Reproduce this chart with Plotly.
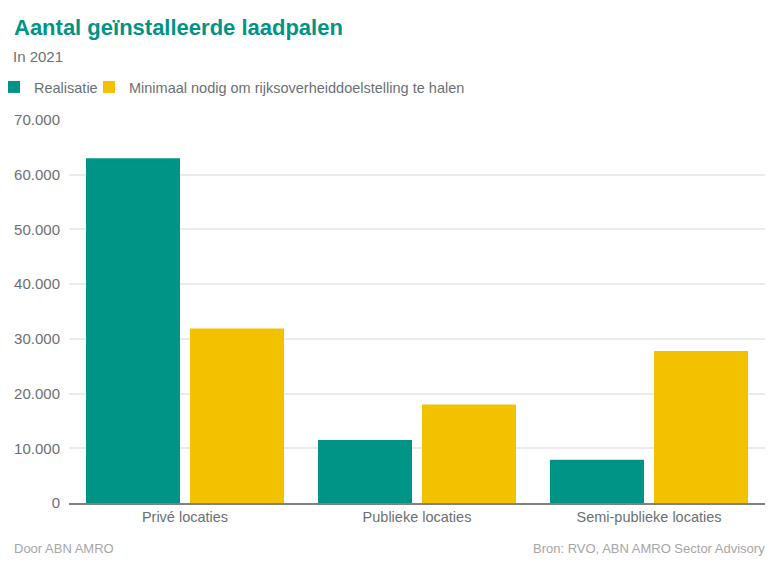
import plotly.graph_objects as go

categories = ["Privé locaties", "Publieke locaties", "Semi-publieke locaties"]
realisatie = [63000, 11500, 7900]
minimaal = [31900, 18000, 27800]
y_ticks = [0, 10000, 20000, 30000, 40000, 50000, 60000, 70000]

TEAL = "#009486"
YELLOW = "#F2C100"
GRAY = "#6b7075"
FONT = "Arial, Liberation Sans, sans-serif"

L, R, T, B = 69, 18, 120, 64
PW, PH = 783 - L - R, 567 - T - B

fig = go.Figure()
fig.add_trace(go.Bar(name="Realisatie", x=categories, y=realisatie, marker_color=TEAL,
                     marker_line_width=0, legend="legend"))
fig.add_trace(go.Bar(name="Minimaal nodig om rijksoverheiddoelstelling te halen", x=categories,
                     y=minimaal, marker_color=YELLOW, marker_line_width=0, legend="legend2"))

legend_common = dict(orientation="h", y=1 + (T - 71) / PH, xanchor="left", yanchor="top",
                     font=dict(size=14.5, color=GRAY), itemwidth=30,
                     itemclick=False, itemdoubleclick=False, bgcolor="rgba(0,0,0,0)")

fig.update_layout(
    width=783, height=567,
    margin=dict(l=L, r=R, t=T, b=B, autoexpand=False),
    paper_bgcolor="white", plot_bgcolor="white",
    font=dict(family=FONT, color=GRAY, size=14),
    separators=",.",
    barmode="group", bargap=0.1034, bargroupgap=0.0962,
    showlegend=True,
    legend=dict(x=(-6 - L) / PW, **legend_common),
    legend2=dict(x=(89 - L) / PW, **legend_common),
    title=dict(text="<b>Aantal geïnstalleerde laadpalen</b>", x=14 / 783, xanchor="left",
               y=1 - 27 / 567, yanchor="middle", font=dict(size=22, color=TEAL, family=FONT)),
)
fig.update_yaxes(range=[0, 70000], tickvals=y_ticks, tickformat=",d", showgrid=True,
                 gridcolor="#ebebeb", gridwidth=2, zeroline=False, showline=False,
                 ticks="", ticklabelstandoff=8, tickfont=dict(size=15, color=GRAY))
fig.update_xaxes(showline=True, linecolor="#808080", linewidth=2, ticks="",
                 tickfont=dict(size=14.5, color=GRAY))

fig.add_annotation(text="In 2021", xref="paper", yref="paper", x=(14 - L) / PW, y=1 + (T - 56) / PH,
                   xanchor="left", yanchor="middle", showarrow=False, xshift=-3,
                   font=dict(size=15, color=GRAY))
fig.add_annotation(text="Door ABN AMRO", xref="paper", yref="paper", x=(14 - L) / PW,
                   y=-(548 - 503) / PH, xanchor="left", yanchor="middle", showarrow=False,
                   xshift=-2, font=dict(size=13, color="#a6a6a6"))
fig.add_annotation(text="Bron: RVO, ABN AMRO Sector Advisory", xref="paper", yref="paper",
                   x=1, y=-(548 - 503) / PH, xanchor="right", yanchor="middle", showarrow=False,
                   xshift=2, font=dict(size=13, color="#a6a6a6"))

fig.write_html("out.html", config={"displayModeBar": False},
               post_script="document.body.style.margin='0';")
